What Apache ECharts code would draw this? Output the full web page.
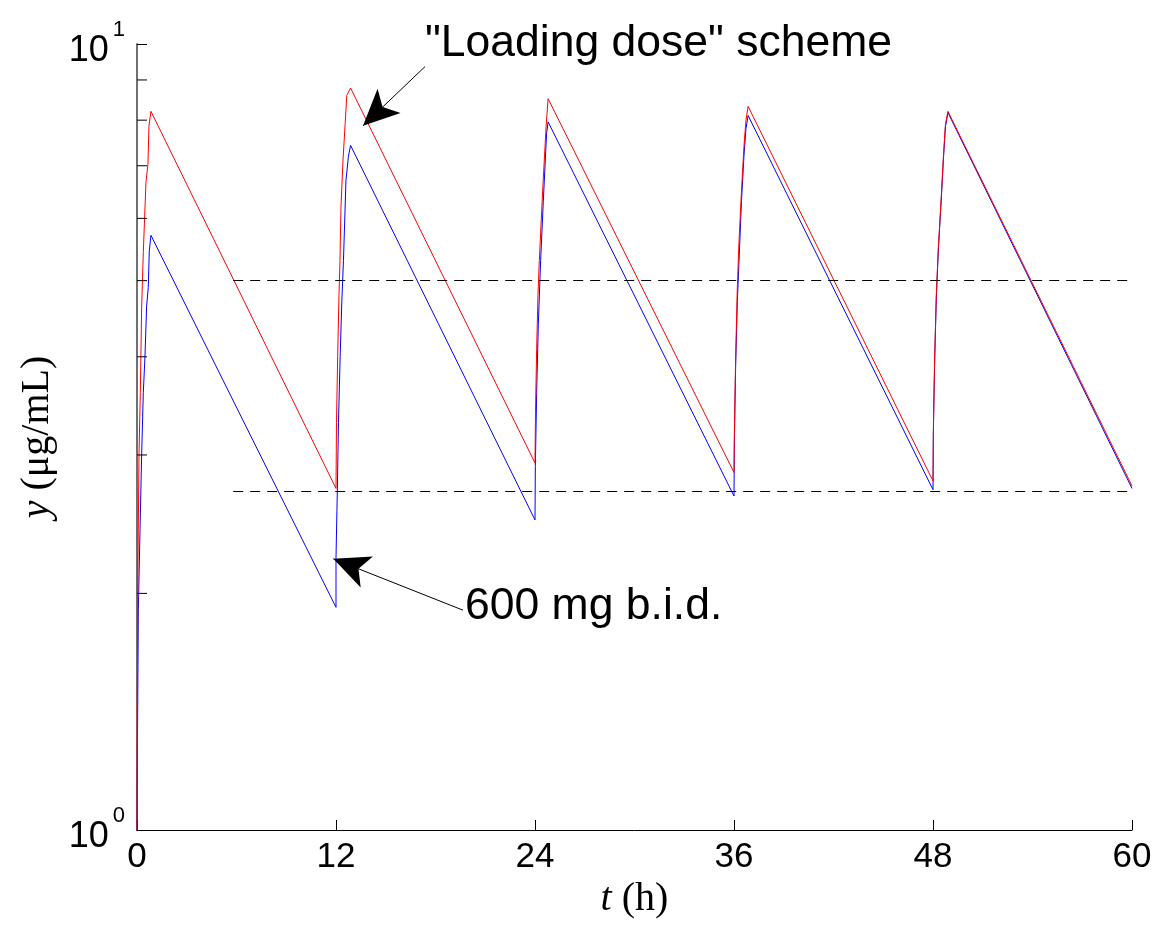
<!DOCTYPE html>
<html>
<head>
<meta charset="utf-8">
<script src="https://cdn.jsdelivr.net/npm/echarts@6/dist/echarts.min.js"></script>
<style>html,body{margin:0;padding:0;background:#fff}#c{width:1156px;height:929px}</style>
</head>
<body>
<div id="c"></div>
<script>
// x ticks (hours)
const xTicks = [0, 12, 24, 36, 48, 60];
// minor ticks on the log y axis
const yMinorTicks = [2, 3, 4, 5, 6, 7, 8, 9];

// "Loading dose" scheme (red) : [t (h), y (ug/mL)]
const loadingDose = [
  [0, 1.0], [0.02, 1.5], [0.06, 2.2], [0.12, 3.0], [0.2, 3.6], [0.28, 4.62], [0.38, 5.43],
  [0.54, 6.67], [0.66, 7.03], [0.72, 7.86], [0.84, 8.21], [12, 2.72],
  [12.03, 3.3], [12.1, 4.0], [12.18, 4.8], [12.24, 5.3], [12.3, 6.2], [12.42, 7.1],
  [12.55, 7.9], [12.65, 8.6], [12.88, 8.79], [24, 2.93],
  [24.03, 3.4], [24.1, 4.1], [24.18, 4.8], [24.26, 5.3], [24.46, 6.5], [24.67, 7.86],
  [24.79, 8.52], [36, 2.85],
  [36.03, 3.3], [36.1, 4.0], [36.2, 4.9], [36.3, 5.6], [36.45, 6.5], [36.6, 7.4],
  [36.72, 8.0], [36.85, 8.33], [48, 2.78],
  [48.03, 3.3], [48.1, 4.0], [48.2, 4.8], [48.32, 5.5], [48.5, 6.4], [48.63, 7.2],
  [48.75, 7.9], [48.9, 8.21], [60, 2.74]
];

// 600 mg b.i.d. (blue)
const bid600 = [
  [0, 1.0], [0.03, 1.3], [0.08, 1.9], [0.18, 2.4], [0.28, 3.0], [0.38, 3.6], [0.48, 4.0],
  [0.58, 4.64], [0.68, 4.9], [0.74, 5.45], [0.84, 5.71], [12, 1.92],
  [12, 2.22], [12.08, 2.7], [12.15, 3.3], [12.25, 4.0], [12.35, 4.7], [12.45, 5.3],
  [12.6, 6.7], [12.75, 7.2], [12.88, 7.43], [24, 2.48],
  [24.02, 2.9], [24.1, 3.6], [24.2, 4.4], [24.34, 5.3], [24.5, 6.3], [24.7, 7.7],
  [24.79, 7.96], [36, 2.66],
  [36.02, 3.1], [36.1, 3.9], [36.2, 4.7], [36.32, 5.4], [36.45, 6.3], [36.6, 7.2],
  [36.72, 7.8], [36.85, 8.11], [48, 2.71],
  [48.02, 3.2], [48.1, 3.95], [48.2, 4.75], [48.32, 5.45], [48.5, 6.35], [48.63, 7.15],
  [48.75, 7.85], [48.9, 8.18], [60, 2.72]
];

// dashed reference levels and their start time
const upperLevel = 5.0;
const lowerLevel = 2.7;
const levelStart = 5.8;

// annotation arrows: [tail, head] in data coords
const loadingArrow = [[17.37, 9.36], [13.63, 7.87]];
const bidArrow = [[19.66, 1.904], [11.84, 2.213]];

const chart = echarts.init(document.getElementById('c'), null, {renderer: 'canvas'});

const sans = '"Liberation Sans", Arial, sans-serif';
const serif = '"Liberation Serif", "Times New Roman", serif';

function arrowLine(a) {
  return [
    {coord: a[0], symbol: 'none'},
    {coord: a[1], symbol: 'arrow', symbolSize: [25, 36]}
  ];
}

chart.setOption({
  animation: false,
  backgroundColor: '#fff',
  grid: {left: 137, top: 44, width: 995, height: 786, containLabel: false},
  xAxis: {
    type: 'value', min: xTicks[0], max: xTicks[xTicks.length - 1], interval: 12,
    axisLine: {show: true, onZero: false, lineStyle: {color: '#000', width: 1}},
    axisTick: {show: true, inside: true, length: 10, lineStyle: {color: '#000'}},
    axisLabel: {fontFamily: sans, fontSize: 35, color: '#000', margin: 10},
    splitLine: {show: false},
    name: '{i|t}{n|\u00a0(h)}',
    nameLocation: 'middle',
    nameGap: 30,
    nameTextStyle: {
      rich: {
        i: {fontFamily: serif, fontStyle: 'italic', fontSize: 40, color: '#000'},
        n: {fontFamily: serif, fontSize: 40, color: '#000'}
      }
    }
  },
  yAxis: {
    type: 'log', logBase: 10, min: 1, max: 10,
    axisLine: {show: true, lineStyle: {color: '#707070', width: 2}},
    axisTick: {show: true, inside: true, length: 10, lineStyle: {color: '#000'}},
    axisLabel: {
      margin: 12,
      formatter: function (v) {
        return '{b|10}{s|' + Math.round(Math.log10(v)) + '}';
      },
      rich: {
        b: {fontFamily: sans, fontSize: 36, color: '#000', padding: [14, 0, 0, 0]},
        s: {fontFamily: sans, fontSize: 22, color: '#000', verticalAlign: 'top', padding: [0, 0, 14, 4]}
      }
    },
    splitLine: {show: false},
    name: '{i|y}{n|\u00a0(μg/mL)}',
    nameLocation: 'middle',
    nameGap: 80,
    nameTextStyle: {
      rich: {
        i: {fontFamily: serif, fontStyle: 'italic', fontSize: 40, color: '#000'},
        n: {fontFamily: serif, fontSize: 40, color: '#000'}
      }
    }
  },
  series: [
    {
      name: '600 mg b.i.d.', type: 'line', data: bid600, showSymbol: false, symbol: 'none',
      lineStyle: {color: '#0000ff', width: 1}, silent: true, z: 2
    },
    {
      name: 'Loading dose', type: 'line', data: loadingDose, showSymbol: false, symbol: 'none',
      lineStyle: {color: '#ff0000', width: 1}, silent: true, z: 3
    },
    {
      name: 'guides', type: 'line', data: [], silent: true, z: 4,
      markLine: {
        silent: true, animation: false,
        label: {show: false},
        emphasis: {disabled: true},
        data: [
          [{coord: [levelStart, upperLevel], symbol: 'none', lineStyle: {type: [10, 7], color: '#000', width: 1}},
           {coord: [xTicks[xTicks.length - 1], upperLevel], symbol: 'none'}],
          [{coord: [levelStart, lowerLevel], symbol: 'none', lineStyle: {type: [10, 7], color: '#000', width: 1}},
           {coord: [xTicks[xTicks.length - 1], lowerLevel], symbol: 'none'}],
          arrowLine(loadingArrow),
          arrowLine(bidArrow)
        ],
        lineStyle: {color: '#000', width: 1, type: 'solid'},
        itemStyle: {color: '#000'}
      }
    },
    {
      name: 'minorTicks', type: 'custom', silent: true, clip: false, z: 5,
      data: yMinorTicks.map(function (v) { return [xTicks[0], v]; }),
      renderItem: function (params, api) {
        const p = api.coord([api.value(0), api.value(1)]);
        return {
          type: 'line',
          shape: {x1: p[0], y1: p[1], x2: p[0] + 10, y2: p[1]},
          style: {stroke: '#000', lineWidth: 1}
        };
      }
    }
  ],
  graphic: [
    {type: 'text', x: 425, y: 44, style: {text: '"Loading dose" scheme', font: '44.5px ' + sans, fill: '#000', verticalAlign: 'middle'}},
    {type: 'text', x: 465, y: 607, style: {text: '600 mg b.i.d.', font: '44.5px ' + sans, fill: '#000', verticalAlign: 'middle'}}
  ]
});
</script>
</body>
</html>
